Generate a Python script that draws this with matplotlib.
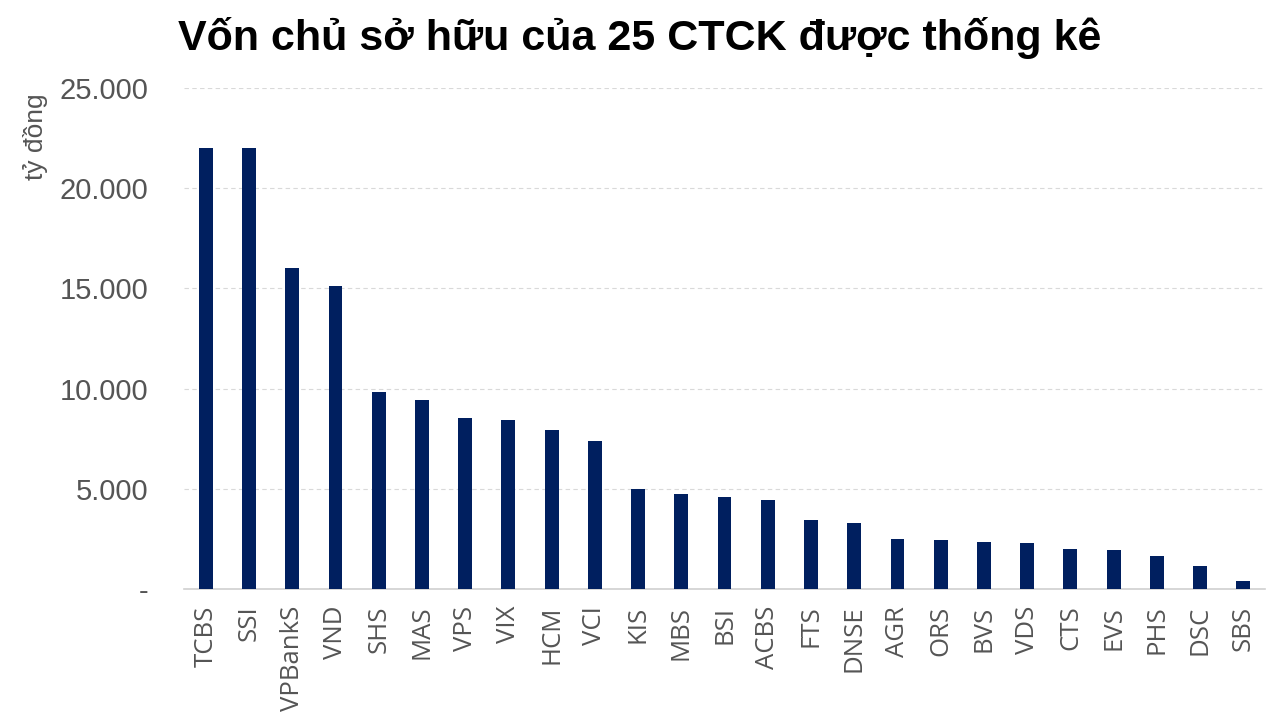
import matplotlib
matplotlib.use('Agg')
import matplotlib.pyplot as plt
import numpy as np

ctck = ['TCBS', 'SSI', 'VPBankS', 'VND', 'SHS', 'MAS', 'VPS', 'VIX', 'HCM', 'VCI',
        'KIS', 'MBS', 'BSI', 'ACBS', 'FTS', 'DNSE', 'AGR', 'ORS', 'BVS', 'VDS',
        'CTS', 'EVS', 'PHS', 'DSC', 'SBS']
von_csh = [22000, 22000, 16000, 15100, 9850, 9450, 8550, 8450, 7950, 7400,
           5000, 4720, 4570, 4420, 3430, 3280, 2480, 2430, 2330, 2280,
           1980, 1930, 1630, 1130, 400]
y_ticks = [0, 5000, 10000, 15000, 20000, 25000]
y_tick_labels = ['-', '5.000', '10.000', '15.000', '20.000', '25.000']

fig = plt.figure(figsize=(12.79, 7.21), dpi=100)
ax = fig.add_axes([0.144, 0.183, 0.845, 0.695])

x = np.arange(len(ctck))
ax.bar(x, von_csh, width=0.32, color='#001f5f', zorder=3)

ax.set_xlim(-0.5, len(ctck) - 0.5)
ax.set_ylim(0, 25000)
ax.set_yticks(y_ticks)
ax.set_yticklabels(y_tick_labels, fontsize=21, color='#555555', family='Liberation Sans')
ax.set_xticks(x)
ax.set_xticklabels(ctck, rotation=90, fontsize=18.5, color='#555555', family='Open Sans')
ax.tick_params(axis='both', length=0)
ax.tick_params(axis='y', pad=26)
ax.tick_params(axis='x', pad=12)

ax.grid(axis='y', color='#d9d9d9', linestyle=(0, (4, 3)), linewidth=0.8, zorder=0)
for s in ['top', 'right', 'left']:
    ax.spines[s].set_visible(False)
ax.spines['bottom'].set_color('#d0d0d0')
ax.spines['bottom'].set_linewidth(1.2)

fig.text(0.028, 0.81, 'tỷ đồng', rotation=90, fontsize=19, color='#555555',
         family='Liberation Sans', ha='center', va='center')
fig.text(0.139, 0.947, 'Vốn chủ sở hữu của 25 CTCK được thống kê', fontsize=31,
         fontweight='bold', family='Liberation Sans', ha='left', va='center')

fig.savefig('out.png', dpi=100)
